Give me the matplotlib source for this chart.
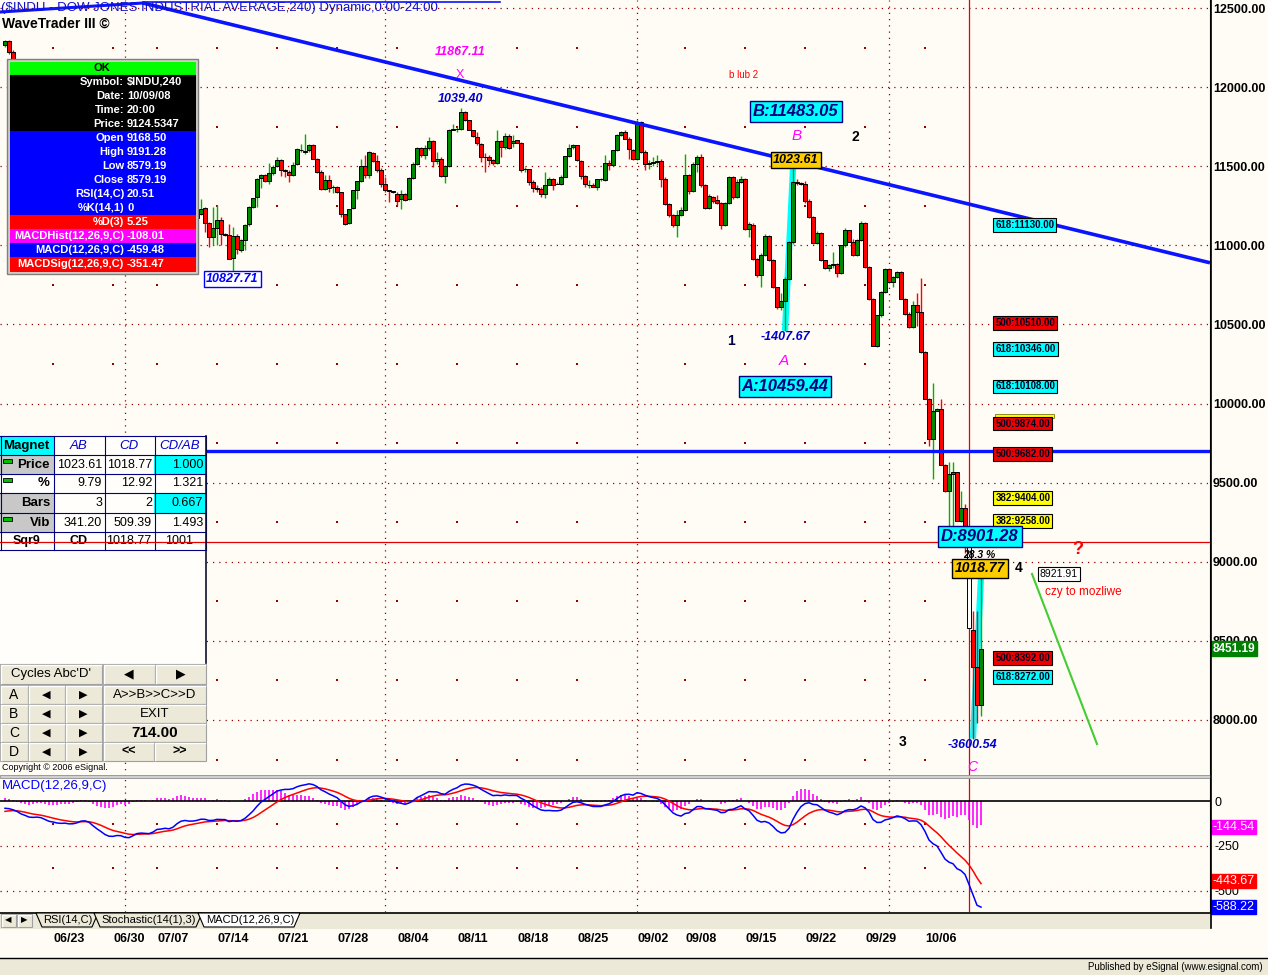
import numpy as np
import matplotlib
matplotlib.use("Agg")
import matplotlib.pyplot as plt
import matplotlib.transforms as mtransforms
from matplotlib.patches import Rectangle, Polygon

plt.rcParams['font.family'] = ['Liberation Sans', 'DejaVu Sans']

# trading days on screen, three 4-hour bars each (07/03 was a half session)
days = ['06/17', '06/18', '06/19', '06/20', '06/23', '06/24', '06/25', '06/26', '06/27', '06/30',
        '07/01', '07/02', '07/03', '07/07', '07/08', '07/09', '07/10', '07/11', '07/14', '07/15',
        '07/16', '07/17', '07/18', '07/21', '07/22', '07/23', '07/24', '07/25', '07/28', '07/29',
        '07/30', '07/31', '08/01', '08/04', '08/05', '08/06', '08/07', '08/08', '08/11', '08/12',
        '08/13', '08/14', '08/15', '08/18', '08/19', '08/20', '08/21', '08/22', '08/25', '08/26',
        '08/27', '08/28', '08/29', '09/02', '09/03', '09/04', '09/05', '09/08', '09/09', '09/10',
        '09/11', '09/12', '09/15', '09/16', '09/17', '09/18', '09/19', '09/22', '09/23', '09/24',
        '09/25', '09/26', '09/29', '09/30', '10/01', '10/02', '10/03', '10/06', '10/07', '10/08',
        '10/09', '10/10']
half_days = ['07/03']

opens = [
    12269, 12291, 12222, 12160, 12100, 12010, 12029, 11980, 12040, 12063, 11995, 11890,
    11842, 11880, 11830, 11842, 11860, 11780, 11807, 11850, 11900, 11811, 11680, 11500,
    11453, 11410, 11330, 11346, 11400, 11440, 11350, 11220, 11260, 11382, 11400, 11290,
    11215, 11190,
    11288, 11360, 11220, 11231, 11130, 11250, 11384, 11350, 11250, 11147, 11170, 11200,
    11236, 11143, 11053, 11110, 11158, 11074, 11067, 10922, 11059, 10968, 11036, 11137,
    11243, 11306, 11426, 11443, 11407, 11458, 11504, 11542, 11479, 11462, 11447, 11513,
    11601, 11589, 11601, 11637, 11548, 11464, 11354, 11411, 11369, 11369, 11335, 11196,
    11141, 11236, 11348, 11407, 11502, 11443, 11584, 11534, 11475, 11386, 11348, 11344,
    11327, 11293, 11323, 11293, 11428, 11513, 11618, 11570, 11618, 11660, 11534, 11548,
    11439, 11500, 11732, 11734, 11735, 11844, 11791, 11728, 11686, 11643, 11559, 11556,
    11538, 11521, 11658, 11622, 11690, 11650, 11664, 11650, 11481, 11481, 11401, 11363,
    11354, 11327, 11384, 11418, 11390, 11390, 11432, 11563, 11622, 11633, 11534, 11437,
    11382, 11382, 11369, 11418, 11411, 11521, 11510, 11601, 11696, 11717, 11675, 11601,
    11548, 11781, 11591, 11516, 11521, 11530, 11532, 11422, 11264, 11190, 11126, 11190,
    11222, 11447, 11344, 11515, 11559, 11380, 11235, 11306, 11289, 11270, 11131, 11270,
    11433, 11306, 11401, 11421, 11106, 11131, 10917, 10810, 10937, 11059, 10909, 10736,
    10609, 10650, 10785, 11019, 11401, 11395, 11388, 11281, 11179, 11016, 11078, 10905,
    10854, 10874, 10884, 10825, 11000, 11095, 11022, 10937, 11032, 11143, 10863, 10662,
    10365, 10557, 10705, 10851, 10768, 10800, 10831, 10662, 10568, 10482, 10626, 10577,
    10325, 10030, 9775, 9955, 9968, 9609, 9447, 9554, 9565, 9258, 9337, 9168.50,
    8568, 8336, 8092]

highs = [
    12300, 12296, 12235, 12165, 12120, 12050, 12040, 12070, 12090, 12070, 12000, 11900,
    11900, 11920, 11860, 11880, 11870, 11820, 11870, 11930, 11910, 11815, 11690, 11520,
    11470, 11420, 11370, 11440, 11460, 11450, 11355, 11300, 11400, 11420, 11410, 11300,
    11250, 11330,
    11390, 11400, 11270, 11240, 11280, 11400, 11400, 11360, 11260, 11200, 11230, 11290,
    11240, 11148, 11243, 11253, 11179, 11080, 11137, 11116, 11074, 11042, 11137, 11250,
    11302, 11428, 11454, 11454, 11523, 11506, 11559, 11548, 11480, 11475, 11527, 11618,
    11643, 11707, 11643, 11643, 11552, 11475, 11443, 11443, 11380, 11375, 11340, 11200,
    11232, 11350, 11410, 11548, 11570, 11597, 11592, 11570, 11490, 11432, 11352, 11346,
    11340, 11348, 11330, 11432, 11527, 11622, 11622, 11633, 11686, 11665, 11590, 11559,
    11505, 11738, 11770, 11749, 11867, 11850, 11791, 11732, 11717, 11645, 11581, 11570,
    11549, 11728, 11665, 11711, 11707, 11696, 11665, 11652, 11496, 11482, 11411, 11380,
    11369, 11464, 11432, 11428, 11401, 11443, 11565, 11639, 11643, 11637, 11538, 11443,
    11411, 11395, 11422, 11428, 11570, 11538, 11601, 11707, 11720, 11728, 11686, 11610,
    11791, 11787, 11600, 11540, 11560, 11570, 11545, 11430, 11270, 11200, 11221, 11243,
    11580, 11452, 11530, 11570, 11580, 11385, 11327, 11315, 11320, 11275, 11275, 11440,
    11440, 11420, 11440, 11425, 11145, 11140, 10920, 10950, 11070, 11065, 10915, 10740,
    10700, 10800, 11030, 11483, 11420, 11400, 11405, 11290, 11185, 11090, 11085, 10910,
    10880, 10960, 10890, 11005, 11110, 11100, 11040, 11040, 11155, 11150, 10870, 10670,
    10560, 10710, 10860, 10855, 10805, 10840, 10835, 10670, 10580, 10650, 10700, 10794,
    10330, 10035, 10130, 9975, 10030, 9615, 9631, 9631, 9570, 9448, 9366, 9191.28,
    8690, 8690, 8901.28]

lows = [
    12255, 12210, 12140, 12080, 11990, 11995, 11950, 11950, 12020, 11980, 11870, 11830,
    11830, 11800, 11800, 11790, 11750, 11740, 11800, 11840, 11800, 11650, 11480, 11440,
    11380, 11300, 11290, 11340, 11370, 11340, 11180, 11130, 11250, 11360, 11260, 11200,
    11160, 11180,
    11280, 11180, 11160, 11100, 11100, 11240, 11330, 11230, 11140, 11100, 11080, 11190,
    11084, 10989, 11000, 11000, 11000, 11060, 10916, 10828, 10947, 10958, 10968, 11125,
    11236, 11243, 11363, 11401, 11390, 11443, 11496, 11437, 11432, 11401, 11440, 11505,
    11591, 11580, 11590, 11545, 11460, 11348, 11348, 11337, 11331, 11330, 11179, 11130,
    11132, 11230, 11295, 11400, 11428, 11428, 11525, 11464, 11369, 11337, 11274, 11330,
    11253, 11232, 11280, 11285, 11422, 11510, 11559, 11549, 11601, 11496, 11517, 11432,
    11394, 11496, 11728, 11717, 11728, 11787, 11728, 11686, 11633, 11527, 11464, 11506,
    11506, 11517, 11559, 11612, 11612, 11622, 11645, 11464, 11464, 11380, 11338, 11338,
    11306, 11302, 11380, 11348, 11386, 11380, 11430, 11560, 11612, 11534, 11422, 11369,
    11365, 11369, 11348, 11410, 11410, 11475, 11500, 11598, 11690, 11675, 11549, 11540,
    11540, 11584, 11475, 11480, 11500, 11505, 11369, 11253, 11180, 11116, 11053, 11185,
    11220, 11327, 11340, 11464, 11369, 11232, 11230, 11270, 11262, 11105, 11125, 11262,
    11290, 11300, 11395, 11100, 11050, 10910, 10800, 10740, 10930, 10900, 10730, 10600,
    10590, 10459, 10780, 11010, 11380, 11380, 11270, 11170, 11010, 11010, 10900, 10850,
    10840, 10860, 10800, 10820, 10990, 11020, 10930, 10930, 11025, 10860, 10655, 10365,
    10360, 10550, 10700, 10765, 10740, 10795, 10660, 10560, 10480, 10475, 10490, 10318,
    10030, 9731, 9525, 9950, 9609, 9443, 9222, 9211, 9258, 9250, 9056, 8579.19,
    7882, 7982, 8025]

closes = [
    12291, 12222, 12160, 12100, 12010, 12029, 11980, 12040, 12063, 11995, 11890, 11842,
    11880, 11830, 11842, 11860, 11780, 11807, 11850, 11900, 11811, 11680, 11500, 11453,
    11410, 11330, 11346, 11400, 11440, 11350, 11220, 11260, 11382, 11400, 11290, 11215,
    11190, 11288,
    11360, 11220, 11231, 11130, 11250, 11384, 11350, 11250, 11147, 11170, 11200, 11229,
    11143, 11053, 11110, 11158, 11074, 11067, 10916, 11059, 10975, 11032, 11131, 11243,
    11302, 11422, 11443, 11407, 11458, 11496, 11542, 11479, 11470, 11447, 11506, 11607,
    11601, 11599, 11637, 11548, 11464, 11354, 11411, 11363, 11369, 11337, 11196, 11137,
    11228, 11348, 11407, 11502, 11447, 11591, 11534, 11479, 11386, 11352, 11346, 11337,
    11281, 11323, 11284, 11428, 11513, 11618, 11570, 11618, 11660, 11534, 11548, 11439,
    11500, 11732, 11734, 11735, 11844, 11791, 11732, 11690, 11650, 11559, 11556, 11538,
    11521, 11658, 11622, 11690, 11618, 11660, 11650, 11475, 11481, 11401, 11363, 11354,
    11327, 11384, 11422, 11384, 11390, 11432, 11563, 11618, 11633, 11538, 11437, 11386,
    11382, 11369, 11418, 11422, 11521, 11510, 11601, 11696, 11717, 11675, 11612, 11548,
    11770, 11591, 11516, 11521, 11530, 11532, 11422, 11264, 11190, 11126, 11190, 11222,
    11447, 11344, 11515, 11559, 11380, 11235, 11310, 11281, 11270, 11131, 11270, 11433,
    11306, 11401, 11421, 11106, 11137, 10917, 10810, 10937, 11059, 10905, 10736, 10609,
    10650, 10785, 11019, 11401, 11395, 11388, 11281, 11179, 11016, 11078, 10905, 10854,
    10874, 10884, 10825, 11000, 11095, 11022, 10937, 11032, 11143, 10863, 10662, 10365,
    10557, 10705, 10851, 10768, 10800, 10831, 10662, 10568, 10482, 10626, 10577, 10325,
    10030, 9775, 9955, 9968, 9609, 9447, 9554, 9565, 9258, 9337, 9122, 8579.19,
    8336, 8092, 8451.19]

week_labels = ['06/23', '06/30', '07/07', '07/14', '07/21', '07/28', '08/04', '08/11',
               '08/18', '08/25', '09/02', '09/08', '09/15', '09/22', '09/29', '10/06']
month_starts = ['07/01', '08/01', '09/02', '10/01']

ema12_seed = 12286
ema26_seed = 12330
signal_seed = -62

# drawn objects
trend_bars = [34.5, 301.25]
trend_prices = [12532, 10890]
top_line_bars = [-1.25, 34.5]
top_line_prices = [12475, 12532]
support_price = 9700
cursor_price = 9124.5347
swing_ab = ([195, 197], [10459.44, 11483.05])
swing_cd = ([242, 244], [7882.51, 8901.28])
fib_levels = [11130.00, 10510.00, 10346.00, 10108.00, 9874.00, 9682.00, 9404.00, 9258.00, 8392.00, 8272.00]
fib_ratios = ['618', '500', '618', '618', '500', '500', '382', '382', '500', '618']
last_close = 8451.19
macd_tags = [(-144.54, '#FF00FF'), (-443.67, '#FF0000'), (-588.22, '#0000FF')]

info_rows = [('Symbol:', '$INDU,240'), ('Date:', '10/09/08'), ('Time:', '20:00'),
             ('Price:', '9124.5347'), ('Open', '9168.50'), ('High', '9191.28'),
             ('Low', '8579.19'), ('Close', '8579.19'), ('RSI(14,C)', '20.51'),
             ('%K(14,1)', '0'), ('%D(3)', '5.25'), ('MACDHist(12,26,9,C)', '-108.01'),
             ('MACD(12,26,9,C)', '-459.48'), ('MACDSig(12,26,9,C)', '-351.47')]
info_colors = ['black'] * 4 + ['#0000FF'] * 6 + ['#FF0000', '#FF00FF', '#0000FF', '#FF0000']

magnet_head = ['Magnet', 'AB', 'CD', 'CD/AB']
magnet_rows = [('Price', '1023.61', '1018.77', '1.000'),
               ('%', '9.79', '12.92', '1.321'),
               ('Bars', '3', '2', '0.667'),
               ('Vib', '341.20', '509.39', '1.493'),
               ('Sqr9', 'CD', '1018.77', '1001')]

# ---------------------------------------------------------------------------
W, H = 1268, 975
BG = '#FFFCF6'
GRID = '#990000'
fig = plt.figure(figsize=(W / 100, H / 100), dpi=100)
fig.patch.set_facecolor(BG)


def frac(x0, y0, x1, y1):
    return [x0 / W, 1 - y1 / H, (x1 - x0) / W, (y1 - y0) / H]


ax = fig.add_axes(frac(0, 0, 1210, 776))
axm = fig.add_axes(frac(0, 778, 1210, 912))
for a in (ax, axm):
    a.set_facecolor(BG)
    a.set_xlim(-1.25, 301.25)
    for s in ('left', 'top', 'bottom'):
        a.spines[s].set_visible(False)
    a.spines['right'].set_color('black')
    a.yaxis.tick_right()
ax.set_ylim(7646, 12551)
axm.set_ylim(-617, 128)

# bar index of each day's first bar
per_day = [2 if d in half_days else 3 for d in days]
first_bar = dict(zip(days, np.concatenate([[0], np.cumsum(per_day)[:-1]])))
week_x = [first_bar[w] for w in week_labels]
month_x = [first_bar[m] for m in month_starts]
cursor_bar = first_bar['10/09'] + 2

# grid
for p in range(8000, 12501, 500):
    ax.axhline(p, color=GRID, lw=0.9, ls=(0, (1, 4)), zorder=1)
for v in (-250, -500):
    axm.axhline(v, color=GRID, lw=0.9, ls=(0, (1, 4)), zorder=1)
for mx in month_x:
    for a in (ax, axm):
        a.axvline(mx, color=GRID, lw=0.9, ls=(0, (1, 4)), zorder=1)
dot_x = [wx for w, wx in zip(week_labels, week_x) if w not in month_starts]
gx, gy = np.meshgrid(dot_x, np.arange(7750, 12500, 500))
ax.scatter(gx.ravel(), gy.ravel(), s=1.2, marker='s', color=GRID, lw=0, zorder=1)
gx, gy = np.meshgrid(dot_x, [-125, -375])
axm.scatter(gx.ravel(), gy.ravel(), s=1.2, marker='s', color=GRID, lw=0, zorder=1)

# lines drawn on the chart
ax.plot(trend_bars, trend_prices, color='#0A14FF', lw=2.6, zorder=6, solid_capstyle='butt')
ax.plot(top_line_bars, top_line_prices, color='#0A14FF', lw=2.2, zorder=6)
ax.axhline(support_price, color='#0A14FF', lw=2.4, zorder=6)
ax.axhline(cursor_price, color='#E00000', lw=0.9, zorder=2)
for a in (ax, axm):
    a.axvline(cursor_bar, color='#E00000', lw=0.9, zorder=2)
ax.plot(*swing_ab, color='#00FFFF', lw=4.5, zorder=2.5, solid_capstyle='butt')
ax.plot(*swing_cd, color='#00FFFF', lw=4.5, zorder=2.5, solid_capstyle='butt')

# candles
o = np.array(opens, float)
hi = np.array(highs, float)
lo = np.array(lows, float)
c = np.array(closes, float)
x = np.arange(len(c))
up = c >= o
ax.vlines(x, lo, hi, colors=np.where(up, '#00B000', '#FF0000'), lw=1.0, zorder=3)
face = np.where(up, '#008800', '#FF0000').astype(object)
face[cursor_bar] = 'white'
ax.bar(x, c - o, bottom=o, width=0.78, color=list(face), edgecolor='black', linewidth=0.7, zorder=4)

# MACD(12,26,9)


def ema(values, span, seed):
    k = 2.0 / (span + 1)
    out = np.empty(len(values))
    e = seed
    for n, v in enumerate(values):
        e += k * (v - e)
        out[n] = e
    return out


macd = ema(c, 12, ema12_seed) - ema(c, 26, ema26_seed)
signal = ema(macd, 9, signal_seed)
hist = macd - signal
axm.vlines(x, 0, hist, colors='#FF00FF', lw=1.2, zorder=2)
axm.axhline(0, color='black', lw=1.2, zorder=3)
axm.plot(x, signal, color='#FF0000', lw=1.1, zorder=4)
axm.plot(x, macd, color='#0000FF', lw=1.1, zorder=5)

# axes labels
ax.set_xticks([])
ax.set_yticks(range(8000, 12501, 500))
ax.set_yticklabels([f'{v:.2f}' for v in range(8000, 12501, 500)], fontsize=9, fontweight='bold')
ax.tick_params(axis='y', length=0, pad=2)
axm.set_yticks([0, -250, -500])
axm.set_yticklabels(['0', '-250', '-500'], fontsize=9)
axm.tick_params(axis='y', length=0, pad=3)
axm.set_xticks(week_x)
axm.set_xticklabels(week_labels, fontsize=9, fontweight='bold', ha='left')
axm.tick_params(axis='x', length=0, pad=15)

rside = mtransforms.blended_transform_factory(ax.transAxes, ax.transData)
ax.text(1.002, last_close, f'{last_close:.2f}', transform=rside, fontsize=8.5, fontweight='bold',
        color='white', va='center', ha='left', zorder=9,
        bbox=dict(boxstyle='square,pad=0.15', fc='#008000', ec='#008000'))
mside = mtransforms.blended_transform_factory(axm.transAxes, axm.transData)
for val, col in macd_tags:
    axm.text(1.002, val, f'{val:.2f}', transform=mside, fontsize=9, color='white',
             va='center', ha='left', zorder=9,
             bbox=dict(boxstyle='square,pad=0.1', fc=col, ec=col))

# chart annotations


def tag(i, p, s, **kw):
    kw.setdefault('ha', 'center')
    kw.setdefault('va', 'center')
    ax.text(i, p, s, zorder=8, clip_on=False, **kw)


def boxed(i, p, s, fc, ec, size, color='black', style='italic', weight='bold', ha='center'):
    tag(i, p, s, fontsize=size, color=color, style=style, fontweight=weight, ha=ha,
        bbox=dict(boxstyle='square,pad=0.18', fc=fc, ec=ec, lw=1.0))


boxed(56.75, 10787, '10827.71', 'white', '#0000FF', 9, color='#0000FF')
tag(113.75, 12222, '11867.11', fontsize=9, color='#FF00FF', style='italic', fontweight='bold')
tag(113.75, 12077, 'X', fontsize=9, color='#FF00FF')
tag(114, 11925, '1039.40', fontsize=9, color='#0000CC', style='italic', fontweight='bold')
tag(184.75, 12077, 'b lub 2', fontsize=7, color='#FF0000')
boxed(197.75, 11849, 'B:11483.05', '#00FFFF', '#000080', 12, color='#000080')
tag(198, 11691, 'B', fontsize=11, color='#FF00FF', style='italic')
tag(212.5, 11685, '2', fontsize=10, fontweight='bold')
boxed(197.75, 11539, '1023.61', '#FFCC00', 'black', 9)
tag(181.5, 10395, '1', fontsize=10, fontweight='bold', color='#000040')
tag(195, 10421, '-1407.67', fontsize=9, color='#0000CC', style='italic', fontweight='bold')
tag(194.75, 10269, 'A', fontsize=11, color='#FF00FF', style='italic')
boxed(195, 10111, 'A:10459.44', '#00FFFF', '#000080', 12, color='#000080')
fib_fc = {'618': '#00FFFF', '500': '#EE0000', '382': '#FFFF00'}
# thin yellow strip sitting on top of the 9874 box
ax.add_patch(Rectangle((247.6, 9912), 14.6, 22, fc='#FFFF00', ec='#606000', lw=0.5, zorder=7))
for lvl, r in zip(fib_levels, fib_ratios):
    tag(247.6, lvl, f'{r}:{lvl:.2f}', fontsize=7, fontweight='bold', ha='left', color='#000020',
        bbox=dict(boxstyle='square,pad=0.2', fc=fib_fc[r], ec='black', lw=0.8))
boxed(243.75, 9163, 'D:8901.28', '#00FFFF', '#000080', 12, color='#000080')
tag(243.5, 9043, '28.3 %', fontsize=7.5, style='italic', fontweight='bold')
boxed(243.75, 8958, '1018.77', '#FFCC00', 'black', 10)
tag(253.5, 8961, '4', fontsize=10, fontweight='bold')
tag(263.5, 8923, '8921.91', fontsize=7.5, bbox=dict(boxstyle='square,pad=0.15', fc='white', ec='black', lw=0.8))
tag(268.25, 9075, '?', fontsize=13, color='#FF0000', fontweight='bold')
tag(260, 8809, 'czy to mozliwe', fontsize=8.5, color='#FF0000', ha='left')
ax.plot([256.75, 273], [8923, 7848], color='#44CC33', lw=1.5, zorder=6)
tag(224.5, 7861, '3', fontsize=10, fontweight='bold')
tag(241.75, 7842, '-3600.54', fontsize=9, color='#0000CC', style='italic', fontweight='bold')
tag(241.75, 7700, 'C', fontsize=10, color='#FF00FF', style='italic')

# ---------------------------------------------------------------------------
# screen furniture, in pixel coordinates
ui = fig.add_axes([0, 0, 1, 1])
ui.set_zorder(10)
ui.set_xlim(0, W)
ui.set_ylim(H, 0)
ui.axis('off')
ui.patch.set_visible(False)


def rect(x0, y0, x1, y1, fc, ec=None, lw=0.8, z=1):
    ui.add_patch(Rectangle((x0, y0), x1 - x0, y1 - y0, fc=fc, ec=ec if ec else fc, lw=lw, zorder=z))


def button(x0, y0, x1, y1, s, size=9.5, weight='normal'):
    rect(x0, y0, x1, y1, '#ECE9D8', '#A0A0A0', 0.8)
    ui.plot([x0 + 1, x0 + 1, x1 - 1], [y1 - 1, y0 + 1, y0 + 1], color='white', lw=1, zorder=2)
    ui.text((x0 + x1) / 2, (y0 + y1) / 2 + 0.5, s, ha='center', va='center', fontsize=size,
            fontweight=weight, zorder=3)


ui.text(1, 8, '($INDU - DOW JONES INDUSTRIAL AVERAGE,240) Dynamic,0:00-24:00', fontsize=9.5,
        color='#1010C8', va='center', zorder=1)
ui.plot([143, 500], [2, 2], color='#0A14FF', lw=1.2, zorder=2)
ui.text(2, 24, 'WaveTrader III \u00a9', fontsize=10, fontweight='bold', va='center')

# info panel
rect(7, 59, 198, 274, '#D4D0C8', '#808080', 1)
rect(10, 62, 195, 74, '#00FF00')
ui.text(102, 68, 'OK', fontsize=8, fontweight='bold', ha='center', va='center', zorder=3)
for k, ((lab, val), col) in enumerate(zip(info_rows, info_colors)):
    yc = 82 + 14 * k
    rect(10, yc - 7, 195, yc + 7, col, z=2)
    ui.text(124, yc, lab, fontsize=8, fontweight='bold', color='white', ha='right', va='center', zorder=3)
    ui.text(127, yc, val, fontsize=8, fontweight='bold', color='white', ha='left', va='center', zorder=3)

# magnet table
rect(0, 436, 205, 663, '#FFFEFB')
cols = [0, 53, 104, 154, 205]
rows = [436, 455, 474, 493, 513, 532, 550]
rect(0, 436, 53, 455, '#00FFFF', z=1.5)
for r, fill in zip(range(1, 5), ['#C8C8C8', '#FFFFFF', '#C8C8C8', '#C8C8C8']):
    rect(0, rows[r], 53, rows[r + 1], fill, z=1.5)
rect(154, rows[1], 205, rows[2], '#00FFFF', z=1.5)
rect(154, rows[3], 205, rows[4], '#00FFFF', z=1.5)
for xv in cols:
    ui.plot([xv + 0.5, xv + 0.5], [rows[0], rows[-1]], color='#000080', lw=0.8, zorder=2)
for yv in rows:
    ui.plot([0, 205], [yv, yv], color='#000080', lw=0.8, zorder=2)
for j, h in enumerate(magnet_head):
    xc = (cols[j] + cols[j + 1]) / 2
    if j == 0:
        ui.text(xc, 446, h, fontsize=9.5, fontweight='bold', ha='center', va='center', zorder=3)
    else:
        ui.text(xc, 446, h, fontsize=9.5, style='italic', color='#0000CC', ha='center', va='center', zorder=3)
for r, row in enumerate(magnet_rows):
    yc = (rows[r + 1] + rows[r + 2]) / 2
    if row[0] == 'Sqr9':
        for j, s in enumerate(row):
            ui.text((cols[j] + cols[j + 1]) / 2, yc, s, fontsize=9,
                    fontweight='bold' if j < 2 else 'normal', ha='center', va='center', zorder=3)
        continue
    ui.text(50, yc, row[0], fontsize=9.5, fontweight='bold', ha='right', va='center', zorder=3)
    for j in (1, 2, 3):
        ui.text(cols[j + 1] - 2, yc, row[j], fontsize=9, ha='right', va='center', zorder=3)
    if row[0] in ('Price', '%', 'Vib'):
        rect(3, yc - 6, 12, yc - 2, '#00C000', 'black', 0.6, z=3)
cy = 975 - ax.transData.transform((0, cursor_price))[1]
ui.plot([0, 205], [cy, cy], color='#E00000', lw=0.9, zorder=4)
ui.plot([205.5, 205.5], [436, 663], color='#101030', lw=1.2, zorder=4)

# cycles buttons
button(0, 664, 102, 684, "Cycles Abc'D'")
button(103, 664, 155, 684, '\u25C0', 9)
button(155, 664, 206, 684, '\u25B6', 9)
for k, name in enumerate('ABCD'):
    y0 = 685 + 19 * k
    button(0, y0, 28, y0 + 19, name, 10)
    button(28, y0, 65, y0 + 19, '\u25C0', 8)
    button(65, y0, 102, y0 + 19, '\u25B6', 8)
button(103, 685, 206, 704, 'A>>B>>C>>D')
button(103, 704, 206, 723, 'EXIT')
button(103, 723, 206, 742, '714.00', 11, 'bold')
button(103, 742, 154, 761, '<<', 9, 'bold')
button(154, 742, 206, 761, '>>', 9, 'bold')
ui.text(2, 767, 'Copyright \u00a9 2006 eSignal.', fontsize=6.5, va='center')

# pane separator, indicator title
rect(0, 775, 1210, 778, '#D0D0D0', '#909090', 0.6)
ui.text(2, 786, 'MACD(12,26,9,C)', fontsize=9.5, color='#0000FF', va='center')

# tab strip
rect(0, 912, 1210, 928, '#ECE9D8', '#ECE9D8')
ui.plot([0, 1210], [912.5, 912.5], color='black', lw=1.2, zorder=3)
button(1, 914, 16, 927, '\u25C0', 6)
button(17, 914, 32, 927, '\u25B6', 6)
for (x0, x1, s, fc) in [(36, 94, 'RSI(14,C)', '#ECE9D8'), (94, 198, 'Stochastic(14(1),3)', '#ECE9D8'),
                        (198, 296, 'MACD(12,26,9,C)', '#FFFFFF')]:
    ui.add_patch(Polygon([(x0, 913), (x0 + 6, 927), (x1 - 2, 927), (x1 + 4, 913)], closed=True,
                         fc=fc, ec='black', lw=0.8, zorder=4))
    ui.text((x0 + x1) / 2 + 3, 920, s, fontsize=8, ha='center', va='center', zorder=5)
ui.plot([1210.5, 1210.5], [0, 928], color='black', lw=1.2, zorder=3)

# bottom status bar
ui.plot([0, W], [958, 958], color='black', lw=1, zorder=3)
rect(0, 959, W, H, '#ECE9D8')
ui.text(1263, 967, 'Published by eSignal (www.esignal.com)', fontsize=7, ha='right', va='center', zorder=3)

fig.savefig('out.png', dpi=100, facecolor=fig.get_facecolor())
